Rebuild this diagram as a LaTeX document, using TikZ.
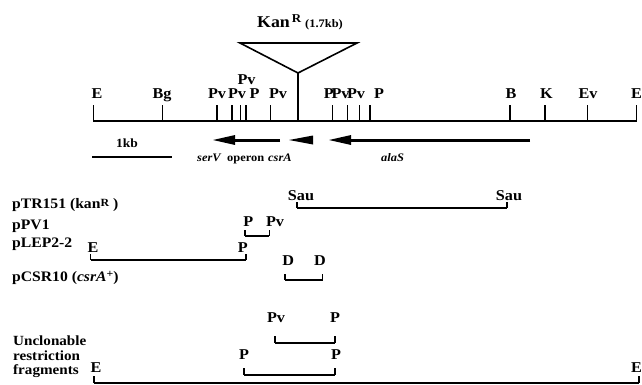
\documentclass[tikz,border=0pt]{standalone}
\usepackage{fontspec}
\setmainfont{Liberation Serif}[FakeStretch=1.08, UprightFont=* Bold, ItalicFont=* Bold Italic]
\usetikzlibrary{arrows.meta}
\begin{document}
\begin{tikzpicture}[x=1pt,y=-1pt,
  site/.style={font=\fontsize{15}{16}\selectfont, inner sep=0pt, anchor=base},
  gene/.style={font=\fontsize{11.5}{13}\selectfont, inner sep=0pt, anchor=base west},
  plas/.style={font=\fontsize{14.5}{15}\selectfont, inner sep=0pt, anchor=base west},
  ucl/.style={font=\fontsize{14}{15}\selectfont, inner sep=0pt, anchor=base west},
  mainline/.style={line width=2pt},
  tickmark/.style={line width=1.3pt},
  frag/.style={line width=2pt},
  fragend/.style={line width=1.3pt},
  genearrow/.style={line width=3pt, -{Triangle[length=23pt,width=9pt]}},
  insert/.style={line width=1.6pt, line join=miter}
]
\useasboundingbox (0,0) rectangle (642,384);

% ---------- main map ----------
\coordinate (mL) at (93,121);
\coordinate (mR) at (637,121);
\draw[mainline] (mL) -- (mR);

\foreach \n/\x in {tE1/93.3, tBg/162.7, tPv1/217, tPv2/232, tPv3/240.3, tP1/246, tPv4/270.3,
                   tP2/332.7, tPv5/347.7, tPv6/359.3, tP3/370, tB/510, tK/545, tEv/587.3, tE2/636.5}{
  \coordinate (\n a) at (\x,105);
  \coordinate (\n b) at (\x,121);
  \draw[tickmark] (\n a) -- (\n b);
}

\node[site] (lE1) at (97,98) {E};
\node[site] (lBg) at (162,98) {Bg};
\node[site] (lPv1) at (217,98) {Pv};
\node[site] (lPv2) at (237,98) {Pv};
\node[site] (lPv3) at (246.5,84) {Pv};
\node[site] (lP1) at (254.5,98) {P};
\node[site] (lPv4) at (278,98) {Pv};
\node[site] (lP2) at (328.7,98) {P};
\node[site] (lPv5) at (340.5,98) {Pv};
\node[site] (lPv6) at (356,98) {Pv};
\node[site] (lP3) at (379,98) {P};
\node[site] (lB) at (511,98) {B};
\node[site] (lK) at (546.5,98) {K};
\node[site] (lEv) at (588,98) {Ev};
\node[site, anchor=base east] (lE2) at (642,98) {E};

% ---------- KanR insertion ----------
\coordinate (kL) at (240,43);
\coordinate (kR) at (357,43);
\coordinate (kA) at (298,73);
\coordinate (kB) at (298,121);
\draw[insert] (kL) -- (kR) -- (kA) -- cycle;
\draw[insert] (kA) -- (kB);
\node[inner sep=0pt, anchor=base west, font=\fontsize{16.5}{18}\selectfont] (kan) at (257,27) {Kan\raisebox{5pt}{\fontsize{12}{12}\selectfont\,R}};
\node[inner sep=0pt, anchor=base west, font=\fontsize{11.5}{12}\selectfont] (kansize) at (305,27) {(1.7kb)};

% ---------- genes ----------
\coordinate (sVt) at (280,140);
\coordinate (sVh) at (212,140);
\draw[genearrow] (sVt) -- (sVh);
\coordinate (cAh) at (289,140);
\coordinate (cAu) at (313,135.5);
\coordinate (cAd) at (313,144.5);
\fill (cAh) -- (cAu) -- (cAd) -- cycle;
\coordinate (aSt) at (530,140);
\coordinate (aSh) at (328,140);
\draw[genearrow] (aSt) -- (aSh);

\node[gene] (gserV) at (197,161) {\itshape serV};
\node[gene] (goperon) at (227,161) {operon};
\node[gene] (gcsrA) at (268,161) {\itshape csrA};
\node[gene] (galaS) at (381,161) {\itshape alaS};

% scale bar
\coordinate (sb1) at (92,157);
\coordinate (sb2) at (172,157);
\draw[line width=1.6pt] (sb1) -- (sb2);
\node[inner sep=0pt, anchor=base, font=\fontsize{12.5}{13}\selectfont] (kb) at (127,147) {1kb};

% ---------- clones ----------
\node[plas] (pTR) at (12,208) {pTR151 (kan\raisebox{2pt}{\fontsize{11}{11}\selectfont R} )};
\node[plas] (pPV) at (12,229) {pPV1};
\node[plas] (pLEP) at (12,247) {pLEP2-2};
\node[plas] (pCSR) at (12,281) {pCSR10 (\textit{csrA}\raisebox{4pt}{\fontsize{11}{11}\selectfont +})};

% pTR151
\coordinate (sau1a) at (297,202); \coordinate (sau1b) at (297,208);
\coordinate (sau2a) at (507,202); \coordinate (sau2b) at (507,208);
\draw[frag] (sau1b) -- (sau2b);
\draw[fragend] (sau1a) -- (sau1b);
\draw[fragend] (sau2a) -- (sau2b);
\node[site] (lSau1) at (301,200) {Sau};
\node[site] (lSau2) at (509,200) {Sau};

% pPV1
\coordinate (pv1a) at (245,230); \coordinate (pv1b) at (245,236);
\coordinate (pv2a) at (269.3,230); \coordinate (pv2b) at (269.3,236);
\draw[frag] (pv1b) -- (pv2b);
\draw[fragend] (pv1a) -- (pv1b);
\draw[fragend] (pv2a) -- (pv2b);
\node[site] (lpvP) at (248.3,226) {P};
\node[site] (lpvPv) at (275,226) {Pv};

% pLEP2-2
\coordinate (le1a) at (90.7,254); \coordinate (le1b) at (90.7,260);
\coordinate (le2a) at (246,254); \coordinate (le2b) at (246,260);
\draw[frag] (le1b) -- (le2b);
\draw[fragend] (le1a) -- (le1b);
\draw[fragend] (le2a) -- (le2b);
\node[site] (lleE) at (93,252) {E};
\node[site] (lleP) at (242.7,252) {P};

% pCSR10
\coordinate (cs1a) at (285,274); \coordinate (cs1b) at (285,280);
\coordinate (cs2a) at (322.7,274); \coordinate (cs2b) at (322.7,280);
\draw[frag] (cs1b) -- (cs2b);
\draw[fragend] (cs1a) -- (cs1b);
\draw[fragend] (cs2a) -- (cs2b);
\node[site] (lcsD1) at (288.3,265) {D};
\node[site] (lcsD2) at (320,265) {D};

% ---------- unclonable fragments ----------
\coordinate (u1a) at (275,336); \coordinate (u1b) at (275,343);
\coordinate (u2a) at (335,336); \coordinate (u2b) at (335,343);
\draw[frag] (u1b) -- (u2b);
\draw[fragend] (u1a) -- (u1b);
\draw[fragend] (u2a) -- (u2b);
\node[site] (luPv) at (276,322) {Pv};
\node[site] (luP1) at (335,322) {P};

\coordinate (w1a) at (244,368); \coordinate (w1b) at (244,375);
\coordinate (w2a) at (335,368); \coordinate (w2b) at (335,375);
\draw[frag] (w1b) -- (w2b);
\draw[fragend] (w1a) -- (w1b);
\draw[fragend] (w2a) -- (w2b);
\node[site] (lwP1) at (244,359) {P};
\node[site] (lwP2) at (336,359) {P};

\coordinate (z1a) at (94,376); \coordinate (z1b) at (94,383);
\coordinate (z2a) at (639,376); \coordinate (z2b) at (639,383);
\draw[frag] (z1b) -- (z2b);
\draw[fragend] (z1a) -- (z1b);
\draw[fragend] (z2a) -- (z2b);
\node[site] (lzE1) at (96,372) {E};
\node[site, anchor=base east] (lzE2) at (642,372) {E};

\node[ucl] (ucl1) at (13,345) {Unclonable};
\node[ucl] (ucl2) at (13,360) {restriction};
\node[ucl] (ucl3) at (13,374) {fragments};
\end{tikzpicture}
\end{document}
